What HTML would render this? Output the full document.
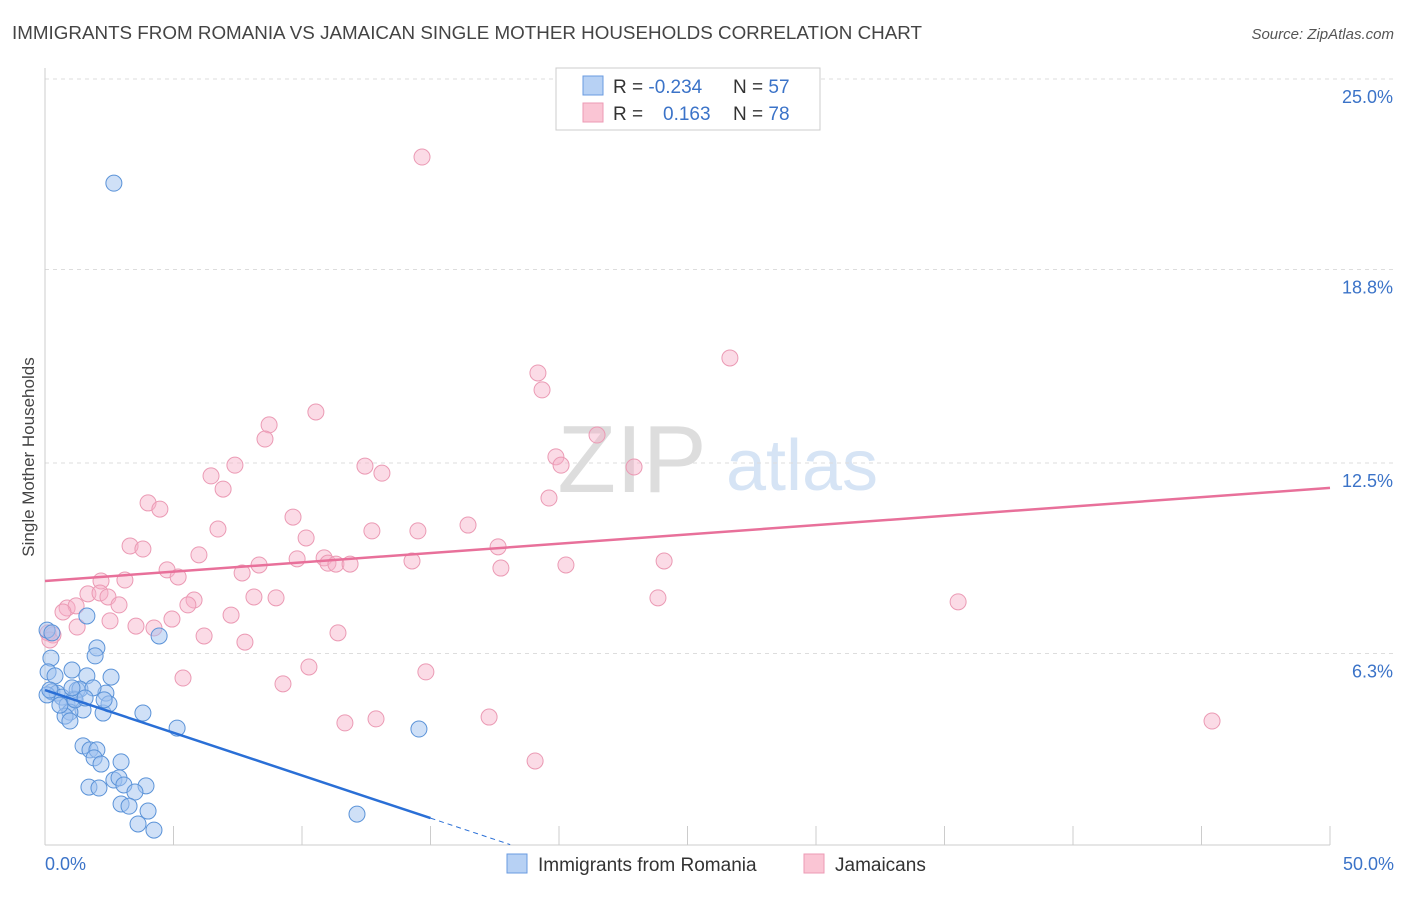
<!DOCTYPE html>
<html><head><meta charset="utf-8"><style>
body{margin:0;background:#fff;font-family:"Liberation Sans",sans-serif;}
svg text{font-family:"Liberation Sans",sans-serif;}
</style></head><body>
<svg id="chart" width="1406" height="892" xmlns="http://www.w3.org/2000/svg">
<text x="12" y="39" font-size="18" fill="#444" textLength="910" lengthAdjust="spacingAndGlyphs">IMMIGRANTS FROM ROMANIA VS JAMAICAN SINGLE MOTHER HOUSEHOLDS CORRELATION CHART</text>
<text x="1394" y="39" font-size="15" fill="#555" font-style="italic" text-anchor="end">Source: ZipAtlas.com</text>
<g>
<text x="632" y="492" font-size="96" fill="#ddd" font-family="Liberation Serif" text-anchor="middle">ZIP</text>
<text x="802" y="490" font-size="72" fill="#d6e4f5" text-anchor="middle">atlas</text>
</g>
<g id="grid"></g>
<line x1="45" y1="68" x2="45" y2="845" stroke="#ccc"/>
<line x1="45" y1="845" x2="1330" y2="845" stroke="#ccc"/>
<g id="xticks"></g>
<text transform="translate(34,457) rotate(-90)" font-size="17" fill="#444" text-anchor="middle">Single Mother Households</text>
<text x="45" y="870" font-size="18" fill="#3b73c8">0.0%</text>
<text x="1394" y="870" font-size="18" fill="#3b73c8" text-anchor="end">50.0%</text>
<g id="points"></g>
<g id="trends"></g>
<g>
<rect x="556" y="68" width="264" height="62" fill="#fff" stroke="#ccc"/>
<rect x="583" y="76" width="20" height="19" fill="#b7d1f4" stroke="#6a9be0"/>
<rect x="583" y="103" width="20" height="19" fill="#fac5d4" stroke="#ec9ab4"/>
<text x="613" y="93" font-size="19" fill="#333">R = <tspan fill="#3b73c8">-0.234</tspan></text>
<text x="733" y="93" font-size="19" fill="#333">N = <tspan fill="#3b73c8">57</tspan></text>
<text x="613" y="120" font-size="19" fill="#333">R = <tspan fill="#3b73c8" x="663">0.163</tspan></text>
<text x="733" y="120" font-size="19" fill="#333">N = <tspan fill="#3b73c8">78</tspan></text>
</g>
<g>
<rect x="507" y="854" width="20" height="19" fill="#b7d1f4" stroke="#6a9be0"/>
<text x="538" y="871" font-size="19" fill="#333">Immigrants from Romania</text>
<rect x="804" y="854" width="20" height="19" fill="#fac5d4" stroke="#ec9ab4"/>
<text x="835" y="871" font-size="19" fill="#333">Jamaicans</text>
</g>
</svg>
<script>
const yTicks=[6.3,12.5,18.8,25.0];
const yTickLabels=["6.3%","12.5%","18.8%","25.0%"];
const xTicks=[5,10,15,20,25,30,35,40,45,50];
const blueX=[2.68,0.08,0.27,0.23,0.12,0.39,1.05,1.63,2.02,1.95,2.57,4.44,1.63,0.27,0.47,0.66,0.86,1.13,1.25,1.36,1.48,0.97,0.78,0.97,2.26,2.37,2.49,2.30,3.81,5.14,14.55,1.48,1.75,2.02,1.91,2.18,2.96,2.68,2.88,3.07,3.93,1.71,2.10,3.50,2.96,3.27,4.01,3.62,4.24,12.14,0.08,0.19,0.58,1.17,1.87,1.56,1.05];
const blueY=[21.61,7.06,6.97,6.15,5.70,5.57,5.76,5.57,6.48,6.22,5.53,6.87,7.52,5.05,5.01,4.88,4.62,4.82,5.11,5.14,4.46,4.39,4.26,4.10,4.36,5.01,4.66,4.79,4.36,3.87,3.84,3.29,3.16,3.16,2.90,2.70,2.77,2.18,2.25,2.02,1.99,1.95,1.92,1.79,1.40,1.33,1.17,0.75,0.55,1.07,4.95,5.11,4.62,4.79,5.18,4.85,5.18];
const pinkX=[14.67,26.65,19.18,19.34,21.48,10.54,8.72,8.56,7.39,12.45,13.11,19.88,20.08,22.92,6.46,6.93,4.01,4.47,19.61,9.65,6.73,16.46,12.72,14.51,10.16,3.31,3.81,17.63,5.99,10.86,9.81,11.01,11.32,11.87,14.28,20.27,24.09,4.75,5.18,7.67,8.33,17.74,2.18,3.11,1.67,2.14,2.45,8.13,8.99,5.80,5.56,23.85,35.53,0.86,1.21,0.70,2.88,1.25,2.53,3.54,4.24,4.94,7.24,0.12,0.31,6.19,7.78,11.40,10.27,14.82,5.37,9.26,11.67,12.88,17.28,19.07,45.41,0.19];
const pinkY=[22.46,15.92,15.43,14.88,13.41,14.16,13.74,13.28,12.43,12.40,12.17,12.70,12.43,12.37,12.08,11.65,11.20,11.00,11.36,10.74,10.35,10.48,10.29,10.29,10.06,9.80,9.70,9.77,9.51,9.41,9.38,9.24,9.21,9.21,9.31,9.18,9.31,9.02,8.79,8.92,9.18,9.08,8.66,8.69,8.24,8.27,8.14,8.14,8.11,8.04,7.88,8.11,7.98,7.78,7.85,7.65,7.88,7.16,7.36,7.19,7.13,7.42,7.55,6.97,6.90,6.87,6.67,6.97,5.86,5.70,5.50,5.31,4.04,4.17,4.23,2.80,4.10,6.74];
const blueTrend=[5.11,-0.278];
const pinkTrend=[8.66,0.0606];

const NS="http://www.w3.org/2000/svg";
const xs=v=>45+v*25.7;
const ys=v=>847-v*30.72;
function mk(tag,attrs,parent){const e=document.createElementNS(NS,tag);for(const k in attrs)e.setAttribute(k,attrs[k]);parent.appendChild(e);return e;}
const grid=document.getElementById('grid');
yTicks.forEach((t,i)=>{
 const l=mk('line',{x1:45,x2:1393,y1:ys(t),y2:ys(t),stroke:'#ddd','stroke-dasharray':'4,4'},grid);
 
 
 const tx=mk('text',{x:1393,y:ys(t)+24,'font-size':18,fill:'#3b73c8','text-anchor':'end'},grid);
 tx.textContent=yTickLabels[i];
 
 
});
const xt=document.getElementById('xticks');
xTicks.forEach(t=>{
 const l=mk('line',{x1:xs(t),x2:xs(t),y1:826,y2:845,stroke:'#ccc'},xt);
 
 
});
const pts=document.getElementById('points');
pinkX.forEach((x,i)=>{
 const c=mk('circle',{cx:xs(x),cy:ys(pinkY[i]),r:8,fill:'rgba(247,176,199,0.45)',stroke:'#eb9ab4','stroke-width':1},pts);
 
 
});
blueX.forEach((x,i)=>{
 const c=mk('circle',{cx:xs(x),cy:ys(blueY[i]),r:8,fill:'rgba(160,194,240,0.5)',stroke:'#5b93d8','stroke-width':1},pts);
 
 
});
const tr=document.getElementById('trends');
const pl=mk('line',{x1:xs(0),y1:ys(pinkTrend[0]),x2:xs(50),y2:ys(pinkTrend[0]+50*pinkTrend[1]),stroke:'#e8709a','stroke-width':2.5},tr);


const bl=mk('line',{x1:xs(0),y1:ys(blueTrend[0]),x2:xs(15),y2:ys(blueTrend[0]+15*blueTrend[1]),stroke:'#2a6fd6','stroke-width':2.5},tr);


const bd=mk('line',{x1:xs(15),y1:ys(blueTrend[0]+15*blueTrend[1]),x2:xs(18.1),y2:ys(blueTrend[0]+18.1*blueTrend[1]),stroke:'#2a6fd6','stroke-width':1,'stroke-dasharray':'5,4'},tr);


</script>
</body></html>
